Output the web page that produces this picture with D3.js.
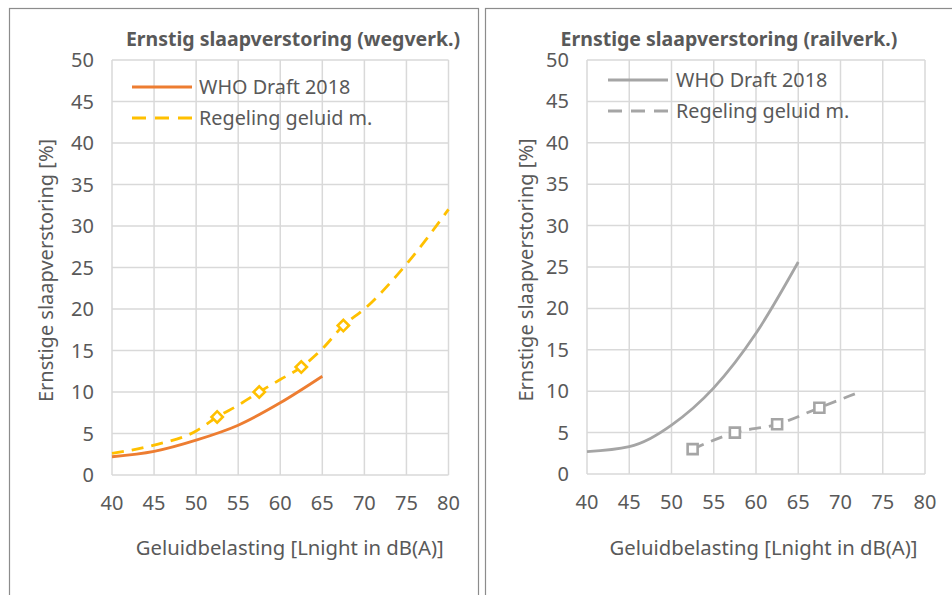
<!DOCTYPE html>
<html>
<head>
<meta charset="utf-8">
<script src="https://cdn.jsdelivr.net/npm/d3@7"></script>
<style>
  body { margin: 0; background: #fff; }
  text { font-family: "Noto Sans", "Open Sans", sans-serif; fill: #595959; }
</style>
</head>
<body>
<div id="chart"></div>
<script>
// x values (Lnight, dB(A))
var whoRoadX = [40, 45, 50, 55, 60, 65]
var whoRoadY = [2.2, 2.85, 4.2, 6.0, 8.7, 11.9]
var regRoadX = [40, 45, 50, 52.5, 55, 57.5, 60, 62.5, 65, 67.5, 70, 75, 80]
var regRoadY = [2.6, 3.6, 5.3, 7, 8.4, 10, 11.5, 13, 15.2, 18, 20, 25.4, 32]
var regRoadMarkX = [52.5, 57.5, 62.5, 67.5]
var regRoadMarkY = [7, 10, 13, 18]

var whoRailX = [40, 45, 47.5, 50, 55, 60, 65]
var whoRailY = [2.7, 3.3, 4.3, 5.9, 10.4, 17.0, 25.6]
var regRailX = [52.5, 57.5, 62.5, 67.5, 72.5]
var regRailY = [3, 5, 6, 8, 10]
var regRailMarkX = [52.5, 57.5, 62.5, 67.5]
var regRailMarkY = [3, 5, 6, 8]

var xTicks = [40, 45, 50, 55, 60, 65, 70, 75, 80]
var yTicks = [0, 5, 10, 15, 20, 25, 30, 35, 40, 45, 50]
var seriesNames = ["WHO Draft 2018", "Regeling geluid m."]

var width = 952, height = 595

var svg = d3.select("#chart").append("svg")
  .attr("width", width)
  .attr("height", height)

function zip(xs, ys) {
  return xs.map(function (x, i) { return [x, ys[i]] })
}

function panel(opt) {
  // outer frame
  svg.append("rect")
    .attr("x", opt.frame[0]).attr("y", 8.5)
    .attr("width", opt.frame[1] - opt.frame[0]).attr("height", 620)
    .attr("fill", "none").attr("stroke", "#8c8c8c").attr("stroke-width", 1.2)

  var x = d3.scaleLinear().domain([40, 80]).range([opt.left, opt.right])
  var y = d3.scaleLinear().domain([0, 50]).range([opt.bottom, 60])
  var g = svg.append("g")

  g.selectAll(".vg").data(xTicks).enter().append("line")
    .attr("x1", x).attr("x2", x).attr("y1", y(0)).attr("y2", y(50))
    .attr("stroke", "#d9d9d9").attr("stroke-width", 1.5)
  g.selectAll(".hg").data(yTicks).enter().append("line")
    .attr("x1", x(40)).attr("x2", x(80)).attr("y1", y).attr("y2", y)
    .attr("stroke", "#d9d9d9").attr("stroke-width", 1.5)

  g.selectAll(".xt").data(xTicks).enter().append("text")
    .attr("x", x).attr("y", opt.bottom + 35)
    .attr("text-anchor", "middle").attr("font-size", 20)
    .text(function (d) { return d })
  g.selectAll(".yt").data(yTicks).enter().append("text")
    .attr("x", opt.left - 18).attr("y", function (d) { return y(d) + 7 })
    .attr("text-anchor", "end").attr("font-size", 20)
    .text(function (d) { return d })

  var line = d3.line()
    .x(function (d) { return x(d[0]) })
    .y(function (d) { return y(d[1]) })
    .curve(d3.curveMonotoneX)

  g.append("path").datum(zip(opt.whoX, opt.whoY))
    .attr("d", line).attr("fill", "none")
    .attr("stroke", opt.color1).attr("stroke-width", 2.8)
  g.append("path").datum(zip(opt.regX, opt.regY))
    .attr("d", line).attr("fill", "none")
    .attr("stroke", opt.color2).attr("stroke-width", 2.8)
    .attr("stroke-dasharray", "12,8")

  var sym = d3.symbol().type(d3.symbolSquare).size(opt.diamond ? 64 : 100)
  g.selectAll(".mk").data(zip(opt.markX, opt.markY)).enter().append("path")
    .attr("d", sym)
    .attr("transform", function (d) {
      return "translate(" + x(d[0]) + "," + y(d[1]) + ")" + (opt.diamond ? "rotate(45)" : "")
    })
    .attr("fill", "#fff").attr("stroke", opt.color2).attr("stroke-width", 2.6)

  // legend
  var lg = g.append("g")
  opt.legend.forEach(function (ly, i) {
    lg.append("line")
      .attr("x1", opt.legX).attr("x2", opt.legX + 60).attr("y1", ly).attr("y2", ly)
      .attr("stroke", i == 0 ? opt.color1 : opt.color2).attr("stroke-width", 2.8)
      .attr("stroke-dasharray", i == 0 ? null : "14,9")
    lg.append("text")
      .attr("x", opt.legX + opt.legGap).attr("y", ly + 7)
      .attr("font-size", 19.8)
      .text(seriesNames[i])
  })

  g.append("text")
    .attr("x", opt.titleX).attr("y", 46)
    .attr("text-anchor", "middle").attr("font-size", 19.5).attr("font-weight", "bold")
    .text(opt.title)

  g.append("text")
    .attr("transform", "translate(" + opt.yLabX + "," + (y(25) + 3) + ")rotate(-90)")
    .attr("text-anchor", "middle").attr("font-size", 20)
    .text("Ernstige slaapverstoring [%]")

  g.append("text")
    .attr("x", (opt.left + opt.right) / 2 + opt.xLabDx).attr("y", 555)
    .attr("text-anchor", "middle").attr("font-size", 20.3)
    .text("Geluidbelasting [Lnight in dB(A)]")
}

panel({
  frame: [9.5, 478.5], left: 112, right: 448.5, bottom: 475,
  title: "Ernstig slaapverstoring (wegverk.)", titleX: 293, yLabX: 53,
  whoX: whoRoadX, whoY: whoRoadY, regX: regRoadX, regY: regRoadY,
  markX: regRoadMarkX, markY: regRoadMarkY, diamond: true,
  color1: "#ed7d31", color2: "#ffc000", legX: 132, legGap: 67, legend: [87, 118],
  xLabDx: 9.5
})

panel({
  frame: [485.5, 960], left: 587, right: 925, bottom: 474,
  title: "Ernstige slaapverstoring (railverk.)", titleX: 729, yLabX: 533,
  whoX: whoRailX, whoY: whoRailY, regX: regRailX, regY: regRailY,
  markX: regRailMarkX, markY: regRailMarkY, diamond: false,
  color1: "#a5a5a5", color2: "#a5a5a5", legX: 608, legGap: 68, legend: [80, 111],
  xLabDx: 7.5
})
</script>
</body>
</html>
